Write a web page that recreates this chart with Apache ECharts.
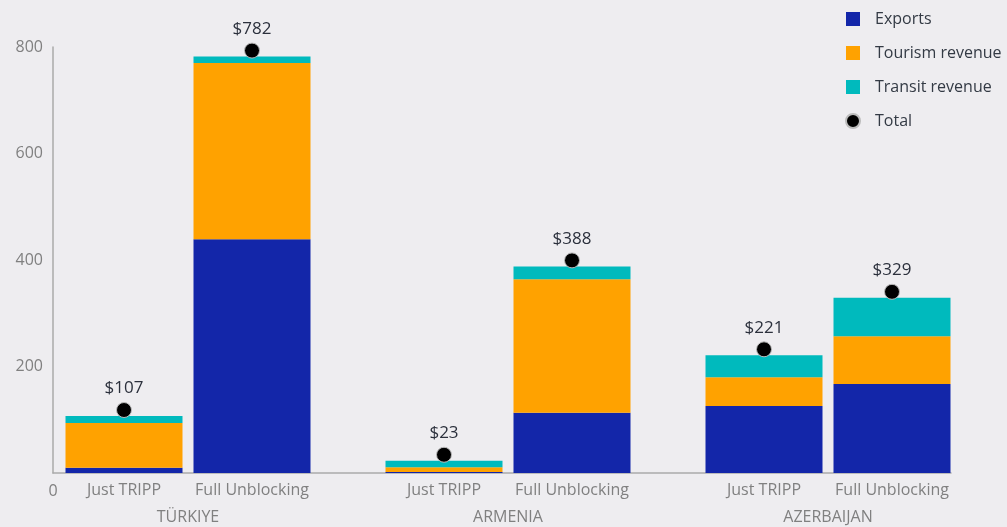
<!DOCTYPE html>
<html>
<head>
<meta charset="utf-8">
<script src="https://cdn.jsdelivr.net/npm/echarts@6/dist/echarts.min.js"></script>
<style>
  html, body { margin: 0; padding: 0; background: #eeedf0; }
  #chart { width: 1007px; height: 527px; }
</style>
</head>
<body>
<div id="chart"></div>
<script>
// Scenario labels and country groups
const scenarios = ['Just TRIPP', 'Full Unblocking', 'Just TRIPP', 'Full Unblocking', 'Just TRIPP', 'Full Unblocking'];
const countries = ['TÜRKIYE', 'ARMENIA', 'AZERBAIJAN'];

// Revenue components (USD millions) per scenario
const exportsVals = [10, 439, 2, 113, 126, 167];
const tourismVals = [84, 331, 9, 251, 54, 90];
const transitVals = [13, 12, 12, 24, 41, 72];
const totalVals = [107, 782, 23, 388, 221, 329];

// Y axis ticks
const yTicks = [0, 200, 400, 600, 800];

// Slot layout on a 13-slot category axis: two bars per country with a spacer between groups
const barSlots = [0, 2, 5, 7, 10, 12];
const countrySlots = [1, 6, 11];
const slotCount = 13;

const scenarioAxis = new Array(slotCount).fill('');
barSlots.forEach((s, i) => { scenarioAxis[s] = scenarios[i]; });
const countryAxis = new Array(slotCount).fill('');
countrySlots.forEach((s, i) => { countryAxis[s] = countries[i]; });

function toSlots(vals) {
  const arr = new Array(slotCount).fill('-');
  barSlots.forEach((s, i) => { arr[s] = vals[i]; });
  return arr;
}

const FONT = '"Open Sans", "Noto Sans", sans-serif';
const AXIS_GRAY = '#aaaaaa';
const LABEL_GRAY = '#808080';

const chart = echarts.init(document.getElementById('chart'), null, { renderer: 'canvas' });

const barCommon = {
  type: 'bar',
  stack: 'rev',
  xAxisIndex: 0,
  yAxisIndex: 0,
  barWidth: 117,
  clip: false,
  emphasis: { disabled: true }
};

chart.setOption({
  backgroundColor: '#eeedf0',
  animation: false,
  textStyle: { fontFamily: FONT },
  legend: {
    orient: 'vertical',
    left: 840,
    top: 6,
    itemWidth: 14,
    itemHeight: 14,
    itemGap: 18,
    textStyle: { fontSize: 16, color: '#333a44', fontFamily: FONT, padding: [0, 0, 0, 10] },
    data: [
      { name: 'Exports', icon: 'rect' },
      { name: 'Tourism revenue', icon: 'rect' },
      { name: 'Transit revenue', icon: 'rect' },
      { name: 'Total', icon: 'circle' }
    ]
  },
  grid: [
    { left: 92, right: 83, top: 47, bottom: 54 },
    { left: 53, right: 56, top: 47, bottom: 54 }
  ],
  xAxis: [
    {
      type: 'category',
      gridIndex: 0,
      data: scenarioAxis,
      axisLine: { show: false },
      axisTick: { show: false },
      axisLabel: { interval: 0, margin: 9, fontSize: 16, color: LABEL_GRAY, fontFamily: FONT }
    },
    {
      type: 'category',
      gridIndex: 0,
      position: 'bottom',
      offset: 27,
      data: countryAxis,
      axisLine: { show: false },
      axisTick: { show: false },
      axisLabel: { interval: 0, margin: 9, fontSize: 16, color: LABEL_GRAY, fontFamily: FONT }
    },
    {
      type: 'value',
      gridIndex: 1,
      min: 0,
      max: 1,
      interval: 1,
      axisLine: { show: true, lineStyle: { color: AXIS_GRAY, width: 1.5 } },
      axisTick: { show: false },
      splitLine: { show: false },
      axisLabel: {
        margin: 10,
        fontSize: 16,
        color: LABEL_GRAY,
        fontFamily: FONT,
        showMaxLabel: false,
        formatter: v => (v === 0 ? '0' : '')
      }
    }
  ],
  yAxis: [
    {
      type: 'value',
      gridIndex: 0,
      min: yTicks[0],
      max: yTicks[yTicks.length - 1],
      interval: yTicks[1] - yTicks[0],
      show: false
    },
    {
      type: 'value',
      gridIndex: 1,
      min: yTicks[0],
      max: yTicks[yTicks.length - 1],
      interval: yTicks[1] - yTicks[0],
      axisLine: { show: true, lineStyle: { color: AXIS_GRAY, width: 1.5 } },
      axisTick: { show: false },
      splitLine: { show: false },
      axisLabel: {
        margin: 10,
        fontSize: 16,
        color: LABEL_GRAY,
        fontFamily: FONT,
        formatter: v => (v === 0 ? '' : String(v))
      }
    }
  ],
  series: [
    Object.assign({}, barCommon, { name: 'Exports', data: toSlots(exportsVals), itemStyle: { color: '#1326a9' } }),
    Object.assign({}, barCommon, { name: 'Tourism revenue', data: toSlots(tourismVals), itemStyle: { color: '#ffa200' } }),
    Object.assign({}, barCommon, { name: 'Transit revenue', data: toSlots(transitVals), itemStyle: { color: '#00babd' } }),
    {
      name: 'Total',
      type: 'scatter',
      xAxisIndex: 0,
      yAxisIndex: 0,
      data: toSlots(totalVals),
      symbol: 'circle',
      symbolSize: 15,
      symbolOffset: [0, -6],
      z: 5,
      itemStyle: { color: '#000000', borderColor: '#bbbbbb', borderWidth: 1, opacity: 1 },
      emphasis: { disabled: true },
      label: {
        show: true,
        position: 'top',
        distance: 5,
        fontSize: 17,
        color: '#2b303c',
        fontFamily: FONT,
        formatter: p => '$' + p.value
      }
    }
  ]
});
</script>
</body>
</html>
